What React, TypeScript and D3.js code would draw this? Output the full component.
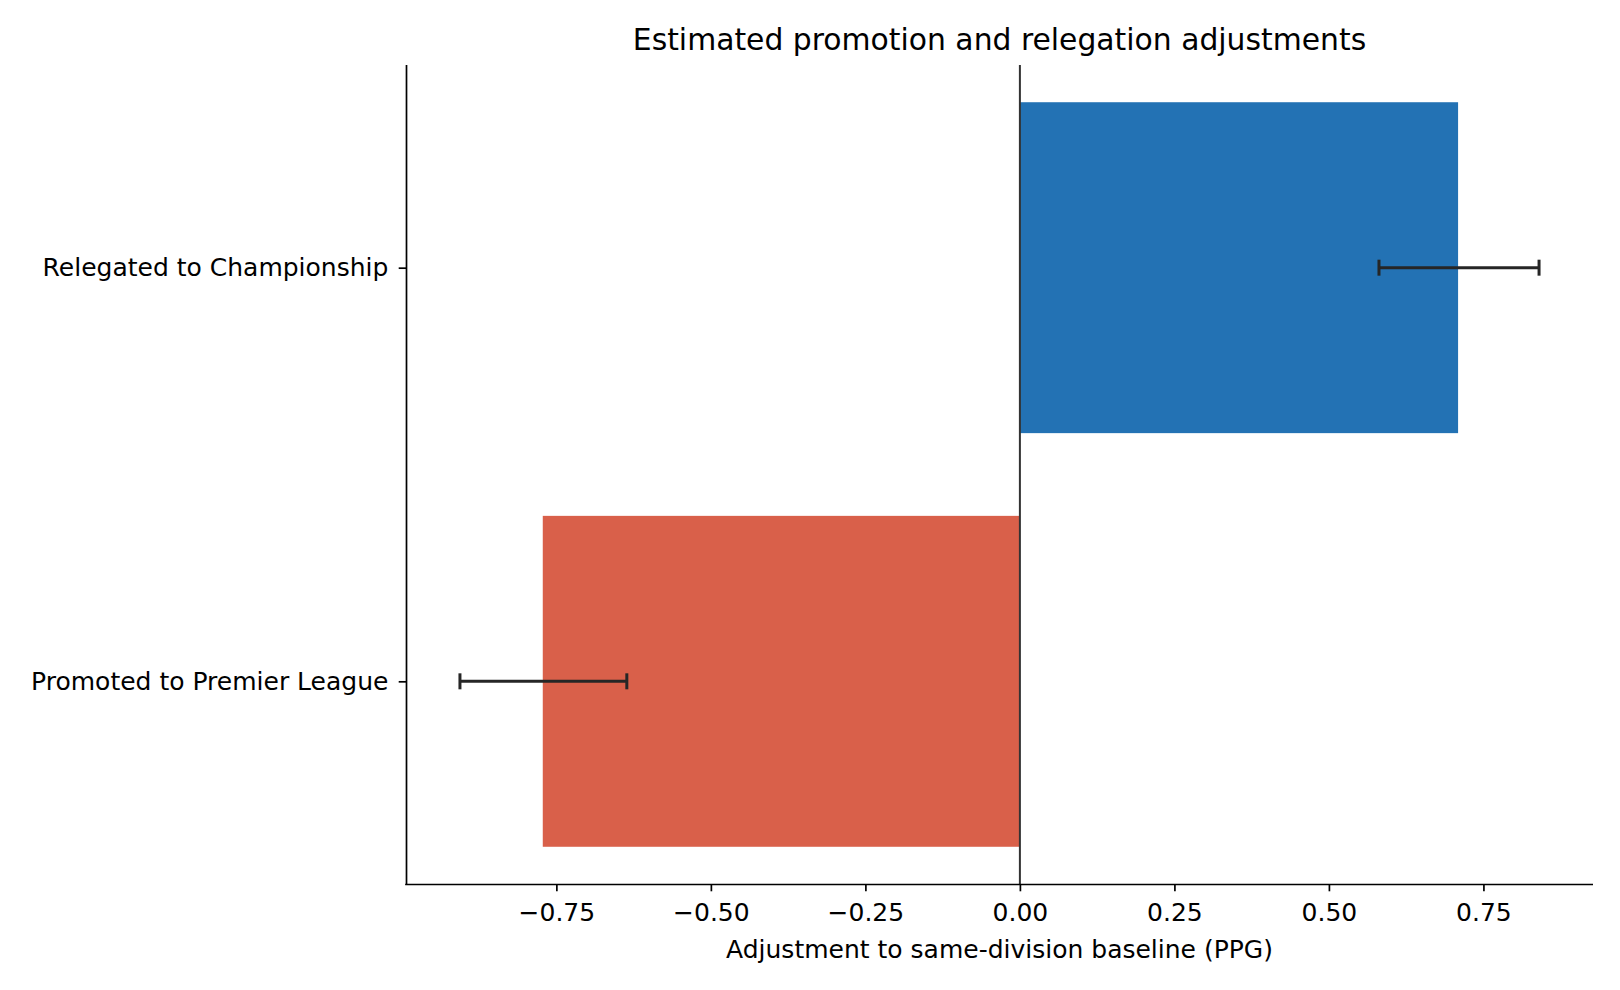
import React, { useEffect, useRef } from 'react';
import * as d3 from 'd3';

// categories, top to bottom
const categories = ['Relegated to Championship', 'Promoted to Premier League'];
const estimates = [0.709, -0.772];
const ciLow = [0.581, -0.906];
const ciHigh = [0.840, -0.636];
const barColors = ['#2372b4', '#d9604a'];
const xTicks = [-0.75, -0.5, -0.25, 0, 0.25, 0.5, 0.75];

const App: React.FC = () => {
  const ref = useRef<SVGSVGElement>(null);

  useEffect(() => {
    document.body.style.margin = '0';
    const svgWidth = 1620, svgHeight = 990;
    const margin = { top: 65, right: 27, bottom: 106, left: 406 };
    const width = svgWidth - margin.left - margin.right;
    const height = svgHeight - margin.top - margin.bottom;
    const font = '"DejaVu Sans", sans-serif';
    const fs = '25px';

    const svg = d3.select(ref.current);
    svg.selectAll('*').remove();
    svg.attr('width', svgWidth).attr('height', svgHeight)
      .style('display', 'block').style('background', '#fff');

    const g = svg.append('g').attr('transform', `translate(${margin.left},${margin.top})`);

    // matplotlib-like 5% margins around the data incl. error bars
    const lo = Math.min(0, d3.min(ciLow)!);
    const hi = Math.max(0, d3.max(ciHigh)!);
    const pad = (hi - lo) * 0.05;
    const x = d3.scaleLinear().domain([lo - pad, hi + pad]).range([0, width]);

    // category positions: index 0 at top (value 1), index 1 at bottom (value 0)
    const n = categories.length;
    const y = d3.scaleLinear().domain([-0.4 - 0.09, n - 1 + 0.4 + 0.09]).range([height, 0]);
    const pos = (i: number) => n - 1 - i;
    const barH = 0.8;

    // bars
    g.selectAll('rect.bar')
      .data(categories)
      .enter().append('rect')
      .attr('class', 'bar')
      .attr('x', (_, i) => Math.min(x(0), x(estimates[i])))
      .attr('width', (_, i) => Math.abs(x(estimates[i]) - x(0)))
      .attr('y', (_, i) => y(pos(i) + barH / 2))
      .attr('height', (_, i) => y(pos(i) - barH / 2) - y(pos(i) + barH / 2))
      .attr('fill', (_, i) => barColors[i]);

    // zero line
    g.append('line')
      .attr('x1', x(0)).attr('x2', x(0))
      .attr('y1', 0).attr('y2', height)
      .attr('stroke', '#333').attr('stroke-width', 2);

    // error bars
    const cap = 8;
    const eb = g.selectAll('g.err').data(categories).enter().append('g').attr('class', 'err')
      .attr('stroke', '#262626');
    eb.append('line')
      .attr('x1', (_, i) => x(ciLow[i])).attr('x2', (_, i) => x(ciHigh[i]))
      .attr('y1', (_, i) => y(pos(i))).attr('y2', (_, i) => y(pos(i)))
      .attr('stroke-width', 3.1);
    [ciLow, ciHigh].forEach(arr => {
      eb.append('line')
        .attr('x1', (_, i) => x(arr[i])).attr('x2', (_, i) => x(arr[i]))
        .attr('y1', (_, i) => y(pos(i)) - cap).attr('y2', (_, i) => y(pos(i)) + cap)
        .attr('stroke-width', 3);
    });

    // x axis
    const xAxis = g.append('g')
      .attr('transform', `translate(0,${height})`)
      .call(d3.axisBottom(x).tickValues(xTicks).tickSize(7.3).tickPadding(12)
        .tickFormat(d => d3.format('.2f')(d as number).replace('-', '\u2212')));
    xAxis.select('.domain').attr('stroke', '#000').attr('stroke-width', 1.7)
      .attr('d', `M${-0.8},0.5H${width}`);
    xAxis.selectAll('.tick line').attr('stroke', '#000').attr('stroke-width', 1.7);
    xAxis.selectAll('.tick text').attr('fill', '#000')
      .style('font-family', font).style('font-size', fs);

    // y axis
    const yAxis = g.append('g')
      .call(d3.axisLeft(y).tickValues(categories.map((_, i) => pos(i))).tickSize(7.3).tickPadding(10.3)
        .tickFormat(d => categories[n - 1 - (d as number)]));
    yAxis.select('.domain').attr('stroke', '#000').attr('stroke-width', 1.7)
      .attr('d', `M0.5,0V${height + 1}`);
    yAxis.selectAll('.tick line').attr('stroke', '#000').attr('stroke-width', 1.7);
    yAxis.selectAll('.tick text').attr('fill', '#000')
      .style('font-family', font).style('font-size', fs);

    // x label
    g.append('text')
      .attr('x', width / 2).attr('y', height + 74)
      .attr('text-anchor', 'middle')
      .style('font-family', font).style('font-size', fs)
      .text('Adjustment to same-division baseline (PPG)');

    // title
    g.append('text')
      .attr('x', width / 2).attr('y', -15)
      .attr('text-anchor', 'middle')
      .style('font-family', font).style('font-size', '29.8px')
      .text('Estimated promotion and relegation adjustments');
  }, []);

  return <svg ref={ref} />;
};

export default App;
